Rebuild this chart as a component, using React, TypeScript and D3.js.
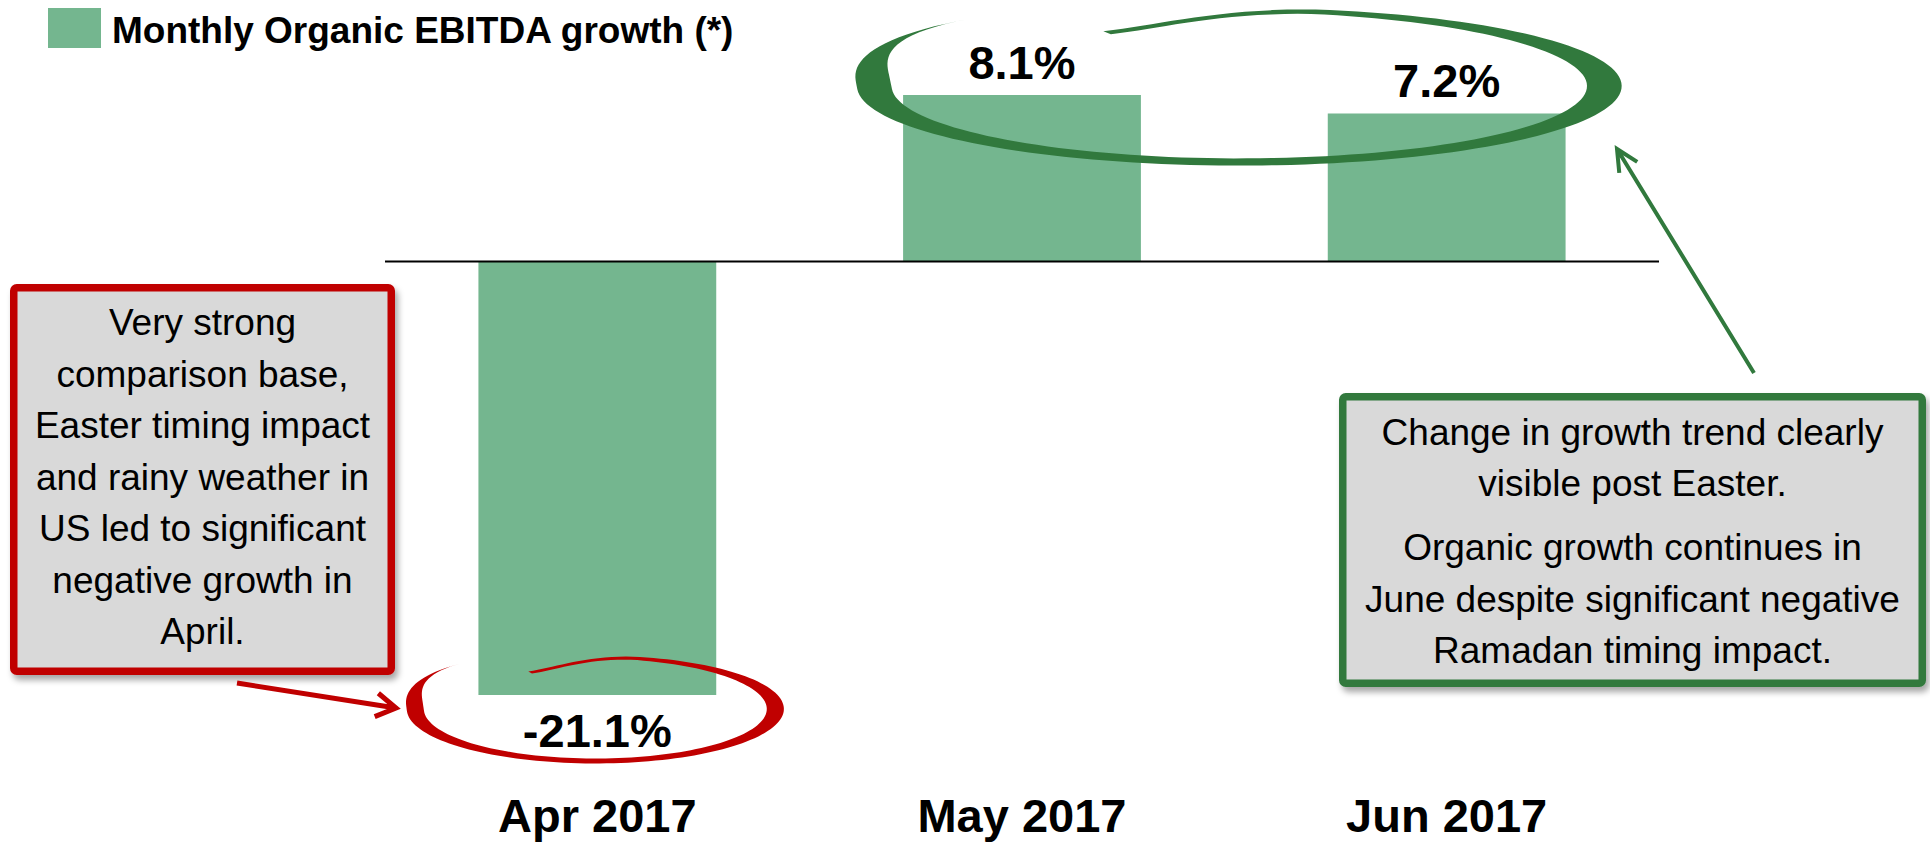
import React from 'react';
import * as d3 from 'd3';

const months = ['Apr 2017', 'May 2017', 'Jun 2017'];
const growth = [-21.1, 8.1, 7.2];
const legendLabel = 'Monthly Organic EBITDA growth (*)';

const redNote = [
    'Very strong',
    'comparison base,',
    'Easter timing impact',
    'and rainy weather in',
    'US led to significant',
    'negative growth in',
    'April.'
];
const greenNoteA = ['Change in growth trend clearly', 'visible post Easter.'];
const greenNoteB = ['Organic growth continues in', 'June despite significant negative', 'Ramadan timing impact.'];

const W = 1930;
const H = 842;
const FONT = '"Liberation Sans", Arial, Helvetica, sans-serif';
const BAR = '#74B68F';
const DARK_GREEN = '#31793D';
const RED = '#C00000';
const BOX_FILL = '#D9D9D9';

// hand drawn ring: a circle brush stroke stretched to an ellipse
const smooth = (t: number) => t * t * (3 - 2 * t);
const ringPath = (cx: number, cy: number, rx: number, ry: number) => {
    const n = 160;
    const outer: [number, number][] = [];
    const inner: [number, number][] = [];
    for (let i = 0; i <= n; i++) {
        const u = i / n;
        const th = ((229.7 - 347 * u) * Math.PI) / 180;
        let r = 1;
        if (u < 0.15) r = 1.15 - 0.15 * smooth(u / 0.15);
        else if (u > 0.88) r = 1 - 0.21 * smooth((u - 0.88) / 0.12);
        let w = 0.095;
        if (u < 0.13) w = 0.095 * smooth(u / 0.13);
        else if (u > 0.7) w = 0.095 - 0.05 * smooth((u - 0.7) / 0.3);
        outer.push([cx + rx * (r + w / 2) * Math.cos(th), cy + ry * (r + w / 2) * Math.sin(th)]);
        inner.push([cx + rx * (r - w / 2) * Math.cos(th), cy + ry * (r - w / 2) * Math.sin(th)]);
    }
    const pts = outer.concat(inner.reverse());
    return d3.line().curve(d3.curveLinearClosed)(pts) as string;
};

const arrowPath = (x1: number, y1: number, x2: number, y2: number, len: number, half: number) => {
    const a = Math.atan2(y1 - y2, x1 - x2);
    const h = (half * Math.PI) / 180;
    const w1 = [x2 + len * Math.cos(a - h), y2 + len * Math.sin(a - h)];
    const w2 = [x2 + len * Math.cos(a + h), y2 + len * Math.sin(a + h)];
    return `M${x1},${y1}L${x2},${y2}M${w1[0]},${w1[1]}L${x2},${y2}L${w2[0]},${w2[1]}`;
};

const App = () => {
    const x = d3.scaleBand<string>()
        .domain(months)
        .range([385, 1659])
        .paddingInner(0.44)
        .paddingOuter(0.22);

    const y = d3.scaleLinear()
        .domain([d3.min(growth) as number, d3.max(growth) as number])
        .range([695, 95]);

    // plain hyphen for the minus sign, as in the slide
    const fmt = (v: number) => v.toFixed(1) + '%';
    const cxOf = (m: string) => (x(m) as number) + x.bandwidth() / 2;

    const redBox = { x: 10, y: 284, w: 385, h: 391 };
    const greenBox = { x: 1339, y: 393, w: 587, h: 294 };
    const bw = 7.5;

    return (
        <svg width={W} height={H} style={{ position: 'absolute', left: 0, top: 0, background: '#fff' }}>
            <defs>
                <filter id="shadow" x="-10%" y="-10%" width="130%" height="130%">
                    <feDropShadow dx="3" dy="5" stdDeviation="3" floodColor="#000" floodOpacity="0.35" />
                </filter>
            </defs>

            {/* legend */}
            <rect x={48} y={8} width={53} height={40} fill={BAR} />
            <text x={112} y={43} fontFamily={FONT} fontSize={37} fontWeight="bold" fill="#000">{legendLabel}</text>

            {/* bars */}
            {months.map((m, i) => (
                <rect
                    key={m}
                    x={x(m)}
                    y={Math.min(y(0), y(growth[i]))}
                    width={x.bandwidth()}
                    height={Math.abs(y(growth[i]) - y(0))}
                    fill={BAR}
                />
            ))}

            {/* zero line */}
            <line x1={385} x2={1659} y1={y(0)} y2={y(0)} stroke="#000" strokeWidth={2} />

            {/* value labels */}
            {months.map((m, i) => (
                <text
                    key={m}
                    x={cxOf(m)}
                    y={growth[i] >= 0 ? y(growth[i]) - 16 : y(growth[i]) + 52}
                    textAnchor="middle"
                    fontFamily={FONT}
                    fontSize={47}
                    fontWeight="bold"
                    fill="#000"
                >
                    {fmt(growth[i])}
                </text>
            ))}

            {/* category labels */}
            {months.map(m => (
                <text key={m} x={cxOf(m)} y={832} textAnchor="middle" fontFamily={FONT} fontSize={47} fontWeight="bold" fill="#000">
                    {m}
                </text>
            ))}

            {/* rings */}
            <path d={ringPath(cxOf(months[0]) - 2, y(growth[0]) + 14, 180, 52)} fill={RED} />
            <path d={ringPath((cxOf(months[1]) + cxOf(months[2])) / 2 + 5, 86, 365, 76)} fill={DARK_GREEN} />

            {/* red note */}
            <rect
                x={redBox.x + bw / 2}
                y={redBox.y + bw / 2}
                width={redBox.w - bw}
                height={redBox.h - bw}
                rx={3}
                fill={BOX_FILL}
                stroke={RED}
                strokeWidth={bw}
                filter="url(#shadow)"
            />
            {redNote.map((t, i) => (
                <text key={i} x={redBox.x + redBox.w / 2} y={335 + i * 51.5} textAnchor="middle" fontFamily={FONT} fontSize={37} fill="#000">
                    {t}
                </text>
            ))}
            <path d={arrowPath(237, 683, 396, 708, 23, 31)} fill="none" stroke={RED} strokeWidth={5} />

            {/* green note */}
            <rect
                x={greenBox.x + bw / 2}
                y={greenBox.y + bw / 2}
                width={greenBox.w - bw}
                height={greenBox.h - bw}
                rx={3}
                fill={BOX_FILL}
                stroke={DARK_GREEN}
                strokeWidth={bw}
                filter="url(#shadow)"
            />
            {greenNoteA.map((t, i) => (
                <text key={'a' + i} x={greenBox.x + greenBox.w / 2} y={445 + i * 50.5} textAnchor="middle" fontFamily={FONT} fontSize={37} fill="#000">
                    {t}
                </text>
            ))}
            {greenNoteB.map((t, i) => (
                <text key={'b' + i} x={greenBox.x + greenBox.w / 2} y={560 + i * 51.5} textAnchor="middle" fontFamily={FONT} fontSize={37} fill="#000">
                    {t}
                </text>
            ))}
            <path d={arrowPath(1754, 373, 1617, 149, 24, 26)} fill="none" stroke={DARK_GREEN} strokeWidth={4} />
        </svg>
    );
};

export default App;
